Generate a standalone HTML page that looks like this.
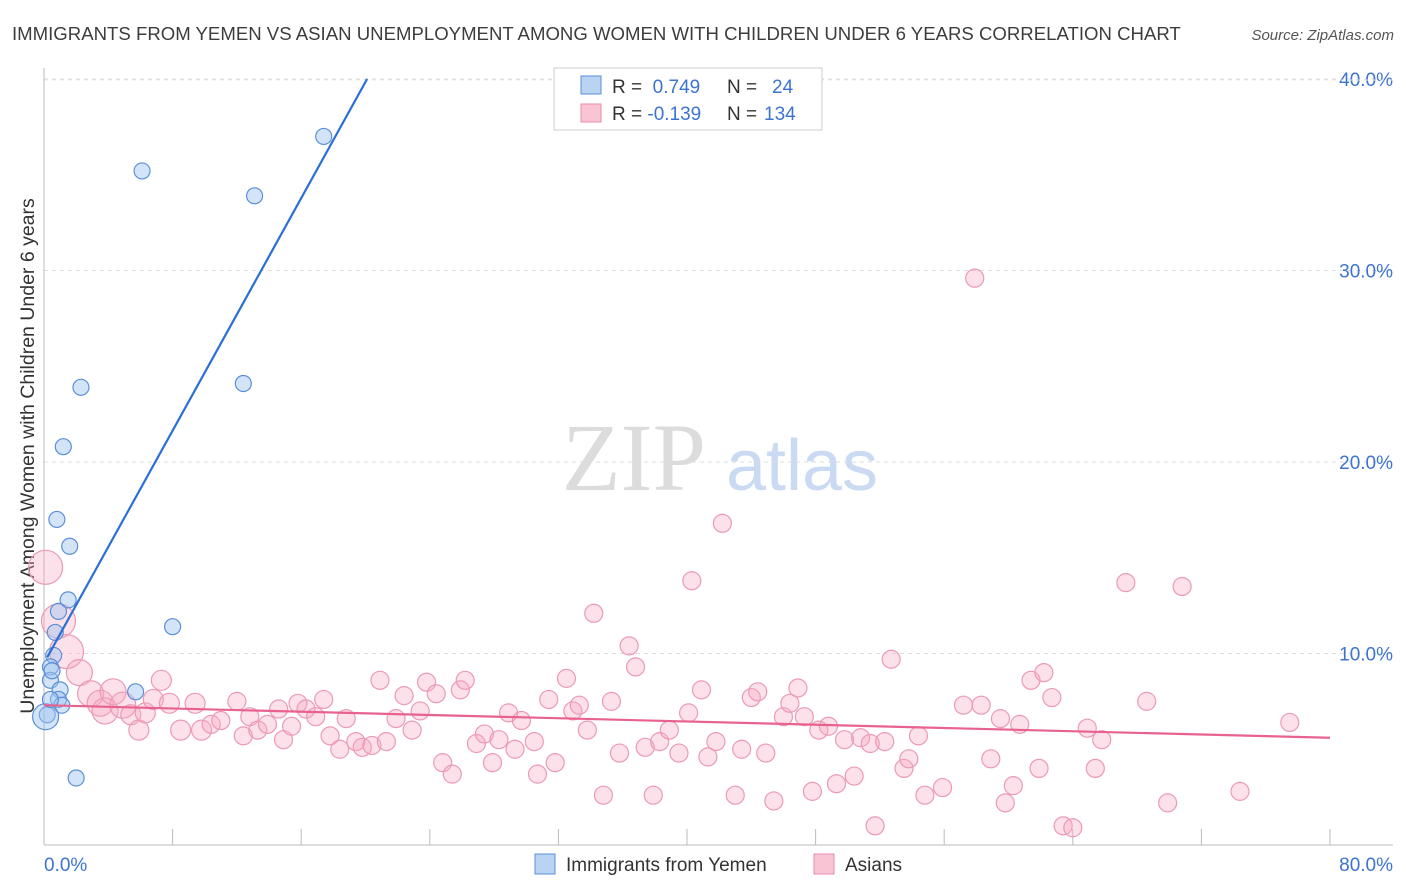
<!DOCTYPE html>
<html><head><meta charset="utf-8"><style>
body{margin:0;background:#fff;font-family:"Liberation Sans",sans-serif;}
svg{display:block}
</style></head><body>
<svg id="chart" width="1406" height="892">
<text x="12" y="40" font-size="18.6" fill="#3d3d3d">IMMIGRANTS FROM YEMEN VS ASIAN UNEMPLOYMENT AMONG WOMEN WITH CHILDREN UNDER 6 YEARS CORRELATION CHART</text>
<text x="1394" y="40" font-size="15" fill="#555" font-style="italic" text-anchor="end">Source: ZipAtlas.com</text>
<g>
<text x="634" y="490" font-size="96" font-family="Liberation Serif,serif" fill="#dcdcdc" text-anchor="middle">ZIP</text>
<text x="802" y="490" font-size="72" fill="#c9daf2" text-anchor="middle">atlas</text>
</g>
<text transform="translate(34,456) rotate(-90)" font-size="19.5" fill="#333" text-anchor="middle">Unemployment Among Women with Children Under 6 years</text>
<g id="grid"></g><g id="axes"></g><g id="pink"></g><g id="blue"></g><g id="lines"></g>
<g>
<rect x="554" y="68" width="268" height="62" fill="#fff" stroke="#ccc"/>
<rect x="581" y="76" width="20" height="18" fill="#b9d3f3" stroke="#5b8fd9"/>
<rect x="581" y="104" width="20" height="18" fill="#f9c5d5" stroke="#ea8aa8"/>
<text x="612" y="93" font-size="19" fill="#333">R = <tspan fill="#3d74d1">&#160;0.749</tspan><tspan x="727">N = </tspan><tspan x="772" fill="#3d74d1">24</tspan></text>
<text x="612" y="120" font-size="19" fill="#333">R = <tspan fill="#3d74d1">-0.139</tspan><tspan x="727">N = </tspan><tspan x="764" fill="#3d74d1">134</tspan></text>
</g>
<g>
<rect x="535" y="854" width="20" height="20" fill="#b9d3f3" stroke="#5b8fd9"/>
<text x="566" y="871" font-size="19" fill="#333">Immigrants from Yemen</text>
<rect x="814" y="854" width="20" height="20" fill="#f9c5d5" stroke="#ea8aa8"/>
<text x="845" y="871" font-size="19" fill="#333">Asians</text>
</g>
</svg>
<script>
const xTicks=[0,8,16,24,32,40,48,56,64,72,80];
const yTicks=[10,20,30,40];
const yTickLabels=["10.0%","20.0%","30.0%","40.0%"];
const xEndLabels=["0.0%","80.0%"];
const blueX=[6.1,13.1,17.4,2.3,12.4,1.2,0.8,1.6,1.5,0.9,0.7,8.0,0.6,0.4,0.4,1.0,5.7,0.9,1.1,0.2,0.1,2.0,0.4,0.5];
const blueY=[35.2,33.9,37.0,23.9,24.1,20.8,17.0,15.6,12.8,12.2,11.1,11.4,9.9,9.3,8.6,8.1,8.0,7.6,7.3,6.8,6.7,3.5,7.6,9.1];
const pinkX=[0.1,0.9,1.4,2.2,2.9,3.5,3.8,4.3,4.9,5.4,5.9,6.3,6.8,7.3,7.8,8.5,9.4,9.8,10.4,11.0,12.0,12.4,12.8,13.3,13.9,14.6,14.9,15.4,15.8,16.3,16.9,17.4,17.8,18.4,18.8,19.4,19.8,20.4,20.9,21.3,21.9,22.4,22.9,23.4,23.8,24.4,24.8,25.4,25.9,26.2,26.9,27.4,27.9,28.3,28.9,29.3,29.7,30.5,30.7,31.4,31.8,32.5,32.9,33.3,33.8,34.2,34.8,35.3,35.8,36.4,36.8,37.4,37.9,38.3,38.9,39.5,40.3,40.1,40.9,41.3,41.8,42.2,43.0,43.4,44.0,44.4,44.9,45.4,46.0,46.4,46.9,47.3,47.8,48.2,48.8,49.3,49.8,50.4,50.8,51.4,51.7,52.3,52.7,53.5,53.8,54.4,54.8,55.9,57.2,57.9,58.3,58.9,59.5,59.8,60.3,60.7,61.4,61.9,62.2,62.7,63.4,64.0,64.9,65.4,65.8,67.3,68.6,69.9,70.8,74.4,77.5];
const pinkY=[14.5,11.7,10.1,9.0,7.9,7.4,7.0,8.0,7.3,6.8,6.0,6.9,7.6,8.6,7.4,6.0,7.4,6.0,6.3,6.5,7.5,5.7,6.7,6.0,6.3,7.1,5.5,6.2,7.4,7.1,6.7,7.6,5.7,5.0,6.6,5.4,5.1,5.2,8.6,5.4,6.6,7.8,6.0,7.0,8.5,7.9,4.3,3.7,8.1,8.6,5.3,5.8,4.3,5.5,6.9,5.0,6.5,5.4,3.7,7.6,4.3,8.7,7.0,7.3,6.0,12.1,2.6,7.5,4.8,10.4,9.3,5.1,2.6,5.4,6.0,4.8,13.8,6.9,8.1,4.6,5.4,16.8,2.6,5.0,7.7,8.0,4.8,2.3,6.7,7.4,8.2,6.7,2.8,6.0,6.2,3.2,5.5,3.6,5.6,5.3,1.0,5.4,9.7,4.0,4.5,5.7,2.6,3.0,7.3,29.6,7.3,4.5,6.6,2.2,3.1,6.3,8.6,4.0,9.0,7.7,1.0,0.9,6.1,4.0,5.5,13.7,7.5,2.2,13.5,2.8,6.4];
const blueTrend=[[0.2,9.8],[20.1,40]];
const pinkTrend=[[0,7.3],[80,5.6]];
const NS="http://www.w3.org/2000/svg";
const X=v=>44+v*(1286/80);
const Y=v=>845-v*19.15;
function mk(tag,parent,attrs){const e=document.createElementNS(NS,tag);for(const k in attrs)e.setAttribute(k,attrs[k]);document.getElementById(parent).appendChild(e);return e;}
yTicks.forEach((t,i)=>{
 const l=mk('line','grid',{x1:44,x2:1393,y1:Y(t),y2:Y(t),stroke:'#ddd','stroke-dasharray':'4,4'});
 
 
 const tx=mk('text','grid',{x:1393,y:Y(t)+7,'font-size':19,fill:'#3d74d1','text-anchor':'end'});
 tx.textContent=yTickLabels[i];
 
 
});
const topGrid=mk('line','grid',{x1:44,x2:1393,y1:80,y2:80,stroke:'#e8e8e8','stroke-dasharray':'4,4'});


const ax=mk('line','axes',{x1:44,x2:44,y1:68,y2:845,stroke:'#bbb'});


const bx=mk('line','axes',{x1:44,x2:1393,y1:845,y2:845,stroke:'#bbb'});


xTicks.forEach(t=>{const l=mk('line','axes',{x1:X(t),x2:X(t),y1:829,y2:845,stroke:'#bbb'});
 
 });
xEndLabels.forEach((lab,i)=>{
 const tx=mk('text','axes',{x:i?1393:44,y:871,'font-size':19,fill:'#3d74d1','text-anchor':i?'end':'start'});
 tx.textContent=lab;
 
 
});
pinkX.forEach((x,i)=>{
 const r=x<2?17:(x<5?13:(x<10?10:9));
 const c=mk('circle','pink',{cx:X(x),cy:Y(pinkY[i]),r:r,fill:'rgba(246,170,195,0.35)',stroke:'#ec9ab4','stroke-width':1.2});
 
 
});
blueX.forEach((x,i)=>{
 const r=i==20?13:8;
 const c=mk('circle','blue',{cx:X(x),cy:Y(blueY[i]),r:r,fill:'rgba(160,195,240,0.45)',stroke:'#5b8fd9','stroke-width':1.2});
 
 
});
const bl=mk('line','lines',{x1:X(blueTrend[0][0]),y1:Y(blueTrend[0][1]),x2:X(blueTrend[1][0]),y2:Y(blueTrend[1][1]),stroke:'#2a6fd6','stroke-width':2.2});


const pl=mk('line','lines',{x1:X(pinkTrend[0][0]),y1:Y(pinkTrend[0][1]),x2:X(pinkTrend[1][0]),y2:Y(pinkTrend[1][1]),stroke:'#e8628e','stroke-width':2.2});


</script>
</body></html>
